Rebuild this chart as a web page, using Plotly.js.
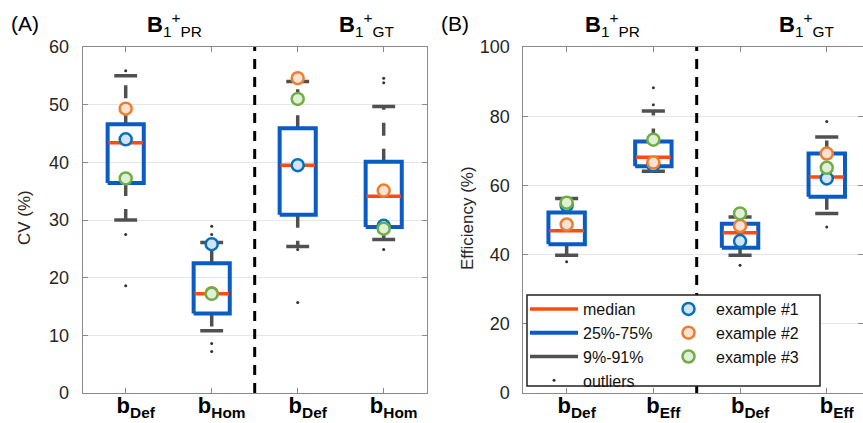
<!DOCTYPE html>
<html>
<head>
<meta charset="utf-8">
<script src="https://cdn.plot.ly/plotly-3.0.1.min.js"></script>
<style>html,body{margin:0;padding:0;background:#fff}#chart{width:863px;height:423px}</style>
</head>
<body>
<div id="chart"></div>
<script>
// ---------- data ----------
const tickTextA = ['b<sub>Def</sub>', 'b<sub>Hom</sub>', 'b<sub>Def</sub>', 'b<sub>Hom</sub>'];
const tickTextB = ['b<sub>Def</sub>', 'b<sub>Eff</sub>', 'b<sub>Def</sub>', 'b<sub>Eff</sub>'];
const groupTitles = ['PR', 'GT'];

// Panel A: CV (%)
const lowA  = [30.0, 10.8, 25.4, 26.6];
const q1A   = [36.4, 13.8, 30.9, 28.8];
const medA  = [43.4, 17.2, 39.5, 34.1];
const q3A   = [46.6, 22.5, 45.9, 40.1];
const highA = [55.0, 26.1, 54.0, 49.7];
const outA  = [[55.9, 27.5, 18.6], [28.9, 27.5, 8.6, 7.2], [24.9, 15.7], [54.6, 53.8, 24.9]];
const ex1A  = [44.0, 25.8, 39.5, 29.0];
const ex2A  = [49.3, 17.3, 54.6, 35.1];
const ex3A  = [37.2, 17.2, 51.0, 28.5];

// Panel B: Efficiency (%)
const lowB  = [39.8, 64.1, 39.8, 51.9];
const q1B   = [43.0, 65.5, 42.0, 56.7];
const medB  = [46.9, 68.1, 46.3, 62.4];
const q3B   = [52.2, 72.7, 48.9, 69.2];
const highB = [56.2, 81.5, 50.9, 74.0];
const outB  = [[37.9], [88.2, 83.3], [36.9], [78.5, 48.0]];
const ex1B  = [54.2, 65.8, 43.9, 62.0];
const ex2B  = [48.7, 66.6, 48.3, 69.2];
const ex3B  = [55.0, 73.2, 51.9, 65.1];

// ---------- styling ----------
const W = 863, H = 423;
const FONT = 'Liberation Sans, Arial, sans-serif';
const cBox = '#0A5BC4', cMed = '#FF4A14', cWh = '#505050';
const exEdge = ['#0072BD', '#ED7D31', '#70AD47'];
const exFill = ['#D3E3F5', '#FCE2D2', '#E0EFD6'];
const BOXW = 0.21, CAPW = 0.133, MEDW = 0.2;

function buildPanel(xa, ya, low, q1, med, q3, high, outs, exs, showLegend) {
  const traces = [];
  const wx = [], wy = [], cx = [], cy = [], bx = [], by = [], mx = [], my = [], ox = [], oy = [];
  for (let i = 0; i < med.length; i++) {
    const c = i + 1;
    wx.push(c, c, null, c, c, null); wy.push(q3[i], high[i], null, q1[i], low[i], null);
    cx.push(c - CAPW, c + CAPW, null, c - CAPW, c + CAPW, null);
    cy.push(high[i], high[i], null, low[i], low[i], null);
    bx.push(c - BOXW, c + BOXW, c + BOXW, c - BOXW, c - BOXW, null);
    by.push(q1[i], q1[i], q3[i], q3[i], q1[i], null);
    mx.push(c - MEDW, c + MEDW, null); my.push(med[i], med[i], null);
    outs[i].forEach(v => { ox.push(c); oy.push(v); });
  }
  const base = {xaxis: xa, yaxis: ya, type: 'scatter', hoverinfo: 'skip'};
  traces.push(Object.assign({}, base, {x: wx, y: wy, mode: 'lines', showlegend: false,
    line: {color: cWh, width: 3.5, dash: '13px,13px'}}));
  traces.push(Object.assign({}, base, {x: cx, y: cy, mode: 'lines', name: '9%-91%', legend: 'legend',
    legendrank: 3, showlegend: showLegend, line: {color: cWh, width: 3.5}}));
  traces.push(Object.assign({}, base, {x: bx, y: by, mode: 'lines', name: '25%-75%', legend: 'legend',
    legendrank: 2, showlegend: showLegend, line: {color: cBox, width: 4}}));
  traces.push(Object.assign({}, base, {x: mx, y: my, mode: 'lines', name: 'median', legend: 'legend',
    legendrank: 1, showlegend: showLegend, line: {color: cMed, width: 3.5}}));
  traces.push(Object.assign({}, base, {x: ox, y: oy, mode: 'markers', name: 'outliers', legend: 'legend',
    legendrank: 4, showlegend: showLegend, marker: {color: '#333333', size: 3}}));
  exs.forEach((ex, k) => {
    traces.push(Object.assign({}, base, {x: ex.map((v, i) => i + 1), y: ex, mode: 'markers',
      name: 'example #' + (k + 1), legend: 'legend2', legendrank: k + 1, showlegend: showLegend,
      marker: {size: 12, color: exFill[k], line: {color: exEdge[k], width: 2.5}}}));
  });
  return traces;
}

const data = [].concat(
  buildPanel('x', 'y', lowA, q1A, medA, q3A, highA, outA, [ex1A, ex2A, ex3A], false),
  buildPanel('x2', 'y2', lowB, q1B, medB, q3B, highB, outB, [ex1B, ex2B, ex3B], true)
);

const yDom = [(H - 393) / H, (H - 47) / H];
const axCommon = {showline: true, linecolor: '#8a8a8a', linewidth: 1, ticks: 'inside', ticklen: 5,
  tickcolor: '#8a8a8a', zeroline: false, fixedrange: true};
function xAxis(dom, range, text) {
  return Object.assign({}, axCommon, {domain: dom, range: range, tickvals: [1, 2, 3, 4],
    ticktext: text.map(t => '<b>' + t + '</b>'), mirror: 'ticks', showgrid: false,
    tickfont: {family: FONT, size: 22, color: '#000'}, ticklabelstandoff: -7, ticklabelshift: 10});
}
function yAxis(dom, range, dt, anchor) {
  return Object.assign({}, axCommon, {domain: dom, range: range, dtick: dt, mirror: 'ticks',
    showgrid: true, gridcolor: '#e6e6e6', gridwidth: 1, anchor: anchor,
    tickfont: {family: FONT, size: 18, color: '#262626'}, ticklabelstandoff: 9});
}

const px = v => v / W, py = v => (H - v) / H;
const ann = [];
function titleAnn(xc, grp) {
  ann.push({xref: 'paper', yref: 'paper', x: px(xc), y: py(25), xanchor: 'center', yanchor: 'middle',
    showarrow: false, text: '<b>B</b><sub>1</sub><sup>+</sup><sub>' + grp + '</sub>',
    font: {family: FONT, size: 22, color: '#000'}});
}
titleAnn(174, groupTitles[0]); titleAnn(366, groupTitles[1]);
titleAnn(612, groupTitles[0]); titleAnn(806, groupTitles[1]);
ann.push({xref: 'paper', yref: 'paper', x: px(25), y: py(24), xanchor: 'center', yanchor: 'middle',
  showarrow: false, text: '(A)', font: {family: FONT, size: 21, color: '#000'}});
ann.push({xref: 'paper', yref: 'paper', x: px(455), y: py(24), xanchor: 'center', yanchor: 'middle',
  showarrow: false, text: '(B)', font: {family: FONT, size: 21, color: '#000'}});
ann.push({xref: 'paper', yref: 'paper', x: px(24), y: py(218), xanchor: 'center', yanchor: 'middle',
  showarrow: false, textangle: -90, text: 'CV (%)', font: {family: FONT, size: 17, color: '#262626'}});
ann.push({xref: 'paper', yref: 'paper', x: px(467), y: py(218), xanchor: 'center', yanchor: 'middle',
  showarrow: false, textangle: -90, text: 'Efficiency (%)', font: {family: FONT, size: 17, color: '#262626'}});

const shapes = [
  {type: 'line', xref: 'x', yref: 'y domain', x0: 2.5, x1: 2.5, y0: 0, y1: 1,
   line: {color: '#000', width: 3, dash: '10px,8px'}, layer: 'above'},
  {type: 'line', xref: 'x2', yref: 'y2 domain', x0: 2.5, x1: 2.5, y0: 0, y1: 1,
   line: {color: '#000', width: 3, dash: '10px,8px'}, layer: 'above'},
  {type: 'rect', xref: 'paper', yref: 'paper', x0: px(527), x1: px(820), y0: py(386), y1: py(295),
   fillcolor: '#fff', line: {color: '#222', width: 1.5}, layer: 'above'}
];

const layout = {
  width: W, height: H, margin: {l: 0, r: 0, t: 0, b: 0},
  paper_bgcolor: '#fff', plot_bgcolor: '#fff',
  font: {family: FONT, color: '#000'},
  xaxis: xAxis([px(82.7), px(426.7)], [0.5, 4.5], tickTextA),
  yaxis: yAxis(yDom, [0, 60], 10, 'x'),
  xaxis2: xAxis([px(523.3), 1], [0.5, 4.418], tickTextB),
  yaxis2: yAxis(yDom, [0, 100], 20, 'x2'),
  legend: {x: px(525), y: py(292), xanchor: 'left', yanchor: 'top', bgcolor: 'rgba(0,0,0,0)',
    borderwidth: 0, font: {family: FONT, size: 16, color: '#111'}, itemwidth: 48, tracegroupgap: 0,
    traceorder: 'normal'},
  legend2: {x: px(661), y: py(292), xanchor: 'left', yanchor: 'top', bgcolor: 'rgba(0,0,0,0)',
    borderwidth: 0, font: {family: FONT, size: 16, color: '#111'}, itemwidth: 45, tracegroupgap: 0},
  shapes: shapes,
  annotations: ann,
  showlegend: true
};

Plotly.newPlot('chart', data, layout, {displayModeBar: false, staticPlot: true});
</script>
</body>
</html>
